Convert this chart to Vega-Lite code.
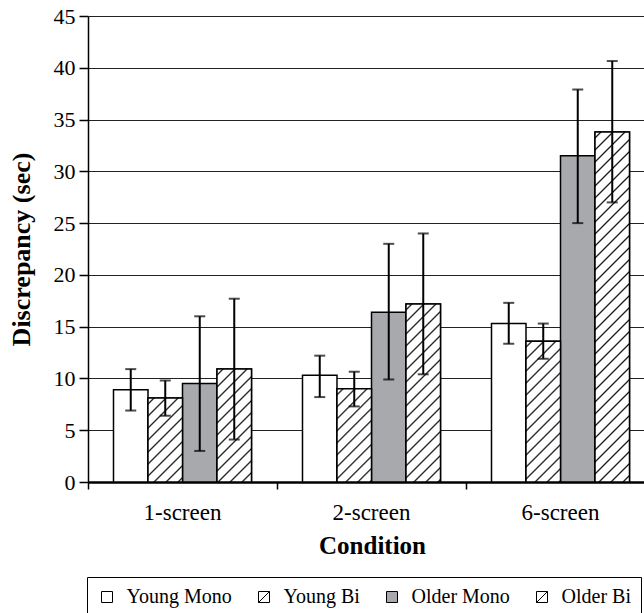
{
  "$schema": "https://vega.github.io/schema/vega-lite/v6.json",
  "width": 556,
  "height": 466,
  "autosize": {"type": "none"},
  "padding": {"left": 88, "top": 16, "right": 0, "bottom": 131},
  "background": "white",
  "config": {
    "view": {"stroke": null},
    "font": "Liberation Serif",
    "axisY": {
      "domainColor": "black", "domainWidth": 1.5,
      "tickColor": "black", "tickSize": 9, "tickWidth": 1.5, "tickCount": 9,
      "labelFontSize": 22, "labelColor": "black", "labelPadding": 4,
      "grid": true, "gridColor": "#222222", "gridWidth": 1,
      "titleFontSize": 26, "titleFontWeight": "bold", "titleColor": "black",
      "titleX": -67, "titleY": 233, "titleAlign": "center", "titleBaseline": "middle"
    },
    "axisX": {
      "domainColor": "black", "domainWidth": 2.5,
      "tickColor": "black", "tickSize": 7, "tickWidth": 1.5,
      "bandPosition": 0, "labelAngle": 0,
      "labelFontSize": 23, "labelColor": "black", "labelPadding": 12,
      "grid": false,
      "titleFontSize": 25, "titleFontWeight": "bold", "titleColor": "black",
      "titleX": 284, "titleY": 71, "titleAlign": "center", "titleBaseline": "alphabetic"
    }
  },
  "params": [
    {"name": "hatch", "value": [
      {"offset": 0, "color": "#ffffff"},
      {"offset": 0.0105, "color": "#ffffff"}, {"offset": 0.015, "color": "#1a1a1a"}, {"offset": 0.0195, "color": "#ffffff"},
      {"offset": 0.0405, "color": "#ffffff"}, {"offset": 0.045, "color": "#1a1a1a"}, {"offset": 0.0495, "color": "#ffffff"},
      {"offset": 0.0705, "color": "#ffffff"}, {"offset": 0.075, "color": "#1a1a1a"}, {"offset": 0.0795, "color": "#ffffff"},
      {"offset": 0.1005, "color": "#ffffff"}, {"offset": 0.105, "color": "#1a1a1a"}, {"offset": 0.1095, "color": "#ffffff"},
      {"offset": 0.1305, "color": "#ffffff"}, {"offset": 0.135, "color": "#1a1a1a"}, {"offset": 0.1395, "color": "#ffffff"},
      {"offset": 0.1605, "color": "#ffffff"}, {"offset": 0.165, "color": "#1a1a1a"}, {"offset": 0.1695, "color": "#ffffff"},
      {"offset": 0.1905, "color": "#ffffff"}, {"offset": 0.195, "color": "#1a1a1a"}, {"offset": 0.1995, "color": "#ffffff"},
      {"offset": 0.2205, "color": "#ffffff"}, {"offset": 0.225, "color": "#1a1a1a"}, {"offset": 0.2295, "color": "#ffffff"},
      {"offset": 0.2505, "color": "#ffffff"}, {"offset": 0.255, "color": "#1a1a1a"}, {"offset": 0.2595, "color": "#ffffff"},
      {"offset": 0.2805, "color": "#ffffff"}, {"offset": 0.285, "color": "#1a1a1a"}, {"offset": 0.2895, "color": "#ffffff"},
      {"offset": 0.3105, "color": "#ffffff"}, {"offset": 0.315, "color": "#1a1a1a"}, {"offset": 0.3195, "color": "#ffffff"},
      {"offset": 0.3405, "color": "#ffffff"}, {"offset": 0.345, "color": "#1a1a1a"}, {"offset": 0.3495, "color": "#ffffff"},
      {"offset": 0.3705, "color": "#ffffff"}, {"offset": 0.375, "color": "#1a1a1a"}, {"offset": 0.3795, "color": "#ffffff"},
      {"offset": 0.4005, "color": "#ffffff"}, {"offset": 0.405, "color": "#1a1a1a"}, {"offset": 0.4095, "color": "#ffffff"},
      {"offset": 0.4305, "color": "#ffffff"}, {"offset": 0.435, "color": "#1a1a1a"}, {"offset": 0.4395, "color": "#ffffff"},
      {"offset": 0.4605, "color": "#ffffff"}, {"offset": 0.465, "color": "#1a1a1a"}, {"offset": 0.4695, "color": "#ffffff"},
      {"offset": 0.4905, "color": "#ffffff"}, {"offset": 0.495, "color": "#1a1a1a"}, {"offset": 0.4995, "color": "#ffffff"},
      {"offset": 0.5205, "color": "#ffffff"}, {"offset": 0.525, "color": "#1a1a1a"}, {"offset": 0.5295, "color": "#ffffff"},
      {"offset": 0.5505, "color": "#ffffff"}, {"offset": 0.555, "color": "#1a1a1a"}, {"offset": 0.5595, "color": "#ffffff"},
      {"offset": 0.5805, "color": "#ffffff"}, {"offset": 0.585, "color": "#1a1a1a"}, {"offset": 0.5895, "color": "#ffffff"},
      {"offset": 0.6105, "color": "#ffffff"}, {"offset": 0.615, "color": "#1a1a1a"}, {"offset": 0.6195, "color": "#ffffff"},
      {"offset": 0.6405, "color": "#ffffff"}, {"offset": 0.645, "color": "#1a1a1a"}, {"offset": 0.6495, "color": "#ffffff"},
      {"offset": 0.6705, "color": "#ffffff"}, {"offset": 0.675, "color": "#1a1a1a"}, {"offset": 0.6795, "color": "#ffffff"},
      {"offset": 0.7005, "color": "#ffffff"}, {"offset": 0.705, "color": "#1a1a1a"}, {"offset": 0.7095, "color": "#ffffff"},
      {"offset": 0.7305, "color": "#ffffff"}, {"offset": 0.735, "color": "#1a1a1a"}, {"offset": 0.7395, "color": "#ffffff"},
      {"offset": 0.7605, "color": "#ffffff"}, {"offset": 0.765, "color": "#1a1a1a"}, {"offset": 0.7695, "color": "#ffffff"},
      {"offset": 0.7905, "color": "#ffffff"}, {"offset": 0.795, "color": "#1a1a1a"}, {"offset": 0.7995, "color": "#ffffff"},
      {"offset": 0.8205, "color": "#ffffff"}, {"offset": 0.825, "color": "#1a1a1a"}, {"offset": 0.8295, "color": "#ffffff"},
      {"offset": 0.8505, "color": "#ffffff"}, {"offset": 0.855, "color": "#1a1a1a"}, {"offset": 0.8595, "color": "#ffffff"},
      {"offset": 0.8805, "color": "#ffffff"}, {"offset": 0.885, "color": "#1a1a1a"}, {"offset": 0.8895, "color": "#ffffff"},
      {"offset": 0.9105, "color": "#ffffff"}, {"offset": 0.915, "color": "#1a1a1a"}, {"offset": 0.9195, "color": "#ffffff"},
      {"offset": 0.9405, "color": "#ffffff"}, {"offset": 0.945, "color": "#1a1a1a"}, {"offset": 0.9495, "color": "#ffffff"},
      {"offset": 0.9705, "color": "#ffffff"}, {"offset": 0.975, "color": "#1a1a1a"}, {"offset": 0.9795, "color": "#ffffff"},
      {"offset": 1, "color": "#ffffff"}
    ]}
  ],
  "data": {"values": [
    {"condition": "1-screen", "group": "Young Mono", "value": 8.9, "lo": 6.9, "hi": 10.9},
    {"condition": "1-screen", "group": "Young Bi", "value": 8.1, "lo": 6.4, "hi": 9.8},
    {"condition": "1-screen", "group": "Older Mono", "value": 9.5, "lo": 3.0, "hi": 16.0},
    {"condition": "1-screen", "group": "Older Bi", "value": 10.9, "lo": 4.1, "hi": 17.7},
    {"condition": "2-screen", "group": "Young Mono", "value": 10.3, "lo": 8.2, "hi": 12.2},
    {"condition": "2-screen", "group": "Young Bi", "value": 9.0, "lo": 7.3, "hi": 10.65},
    {"condition": "2-screen", "group": "Older Mono", "value": 16.4, "lo": 9.9, "hi": 23.0},
    {"condition": "2-screen", "group": "Older Bi", "value": 17.2, "lo": 10.4, "hi": 24.0},
    {"condition": "6-screen", "group": "Young Mono", "value": 15.3, "lo": 13.35, "hi": 17.3},
    {"condition": "6-screen", "group": "Young Bi", "value": 13.6, "lo": 11.9, "hi": 15.3},
    {"condition": "6-screen", "group": "Older Mono", "value": 31.5, "lo": 25.0, "hi": 37.9},
    {"condition": "6-screen", "group": "Older Bi", "value": 33.8, "lo": 27.0, "hi": 40.65}
  ]},
  "encoding": {
    "x": {
      "field": "condition", "type": "nominal", "title": "Condition",
      "sort": ["1-screen", "2-screen", "6-screen"],
      "scale": {"range": [0, 567], "paddingInner": 0, "paddingOuter": 0}
    },
    "xOffset": {
      "field": "group", "type": "nominal",
      "sort": ["Young Mono", "Young Bi", "Older Mono", "Older Bi"],
      "scale": {"domain": ["Young Mono", "Young Bi", "Older Mono", "Older Bi"], "paddingInner": 0, "paddingOuter": 0.739}
    }
  },
  "layer": [
    {
      "mark": {"type": "bar", "stroke": "black", "strokeWidth": 1.5},
      "encoding": {
        "y": {"field": "value", "type": "quantitative", "title": "Discrepancy (sec)", "scale": {"domain": [0, 45], "nice": false}},
        "fill": {
          "field": "group", "type": "nominal",
          "scale": {"domain": ["Young Mono", "Young Bi", "Older Mono", "Older Bi"], "range": ["#ffffff", "#ffffff", "#a8a9ad", "#ffffff"]},
          "legend": {
            "title": null, "orient": "none", "legendX": -1, "legendY": 561,
            "direction": "horizontal", "strokeColor": "black", "padding": 10,
            "symbolOffset": 0, "labelOffset": 9.5, "columnPadding": 22,
            "symbolSize": 121, "symbolType": "square", "symbolStrokeColor": "black", "symbolStrokeWidth": 1,
            "labelFontSize": 20, "labelColor": "black", "labelFont": "Liberation Serif",
            "encode": {"symbols": {"update": {"shape": {"signal": "indexof(['Young Bi','Older Bi'], datum.value) >= 0 ? 'M-1,-1H1V1H-1ZM-1,1L1,-1' : 'square'"}}}}
          }
        }
      }
    },
    {
      "transform": [{"filter": "indexof(['Young Bi','Older Bi'], datum.group) >= 0"}],
      "mark": {"type": "bar", "stroke": "black", "strokeWidth": 1.5},
      "encoding": {
        "y": {"field": "value", "type": "quantitative", "title": "Discrepancy (sec)"},
        "fill": {"value": {"expr": "{gradient: 'linear', x1: 0, y1: 0, x2: 13800 / (1190.25 + pow(datum.value * 10.35556, 2)), y2: 400 * datum.value * 10.35556 / (1190.25 + pow(datum.value * 10.35556, 2)), stops: hatch}"}}
      }
    },
    {
      "mark": {"type": "rule", "color": "black", "strokeWidth": 2},
      "encoding": {
        "y": {"field": "lo", "type": "quantitative", "title": "Discrepancy (sec)"},
        "y2": {"field": "hi"}
      }
    },
    {
      "mark": {"type": "tick", "color": "black", "size": 11, "thickness": 2},
      "encoding": {
        "y": {"field": "hi", "type": "quantitative", "title": "Discrepancy (sec)"}
      }
    },
    {
      "mark": {"type": "tick", "color": "black", "size": 11, "thickness": 2},
      "encoding": {
        "y": {"field": "lo", "type": "quantitative", "title": "Discrepancy (sec)"}
      }
    }
  ]
}
